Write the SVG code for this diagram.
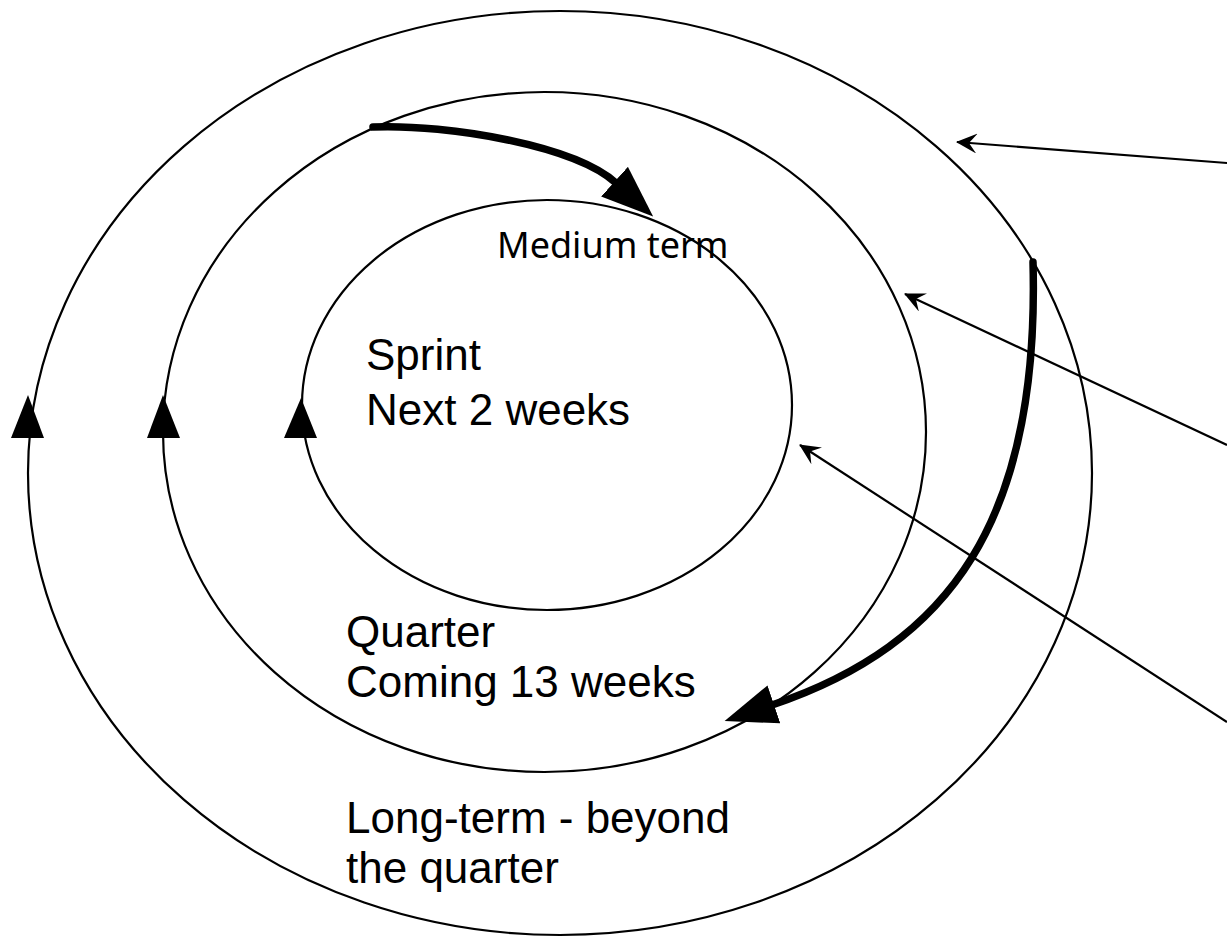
<svg xmlns="http://www.w3.org/2000/svg" width="1227" height="939" viewBox="0 0 1227 939">
  <style>
    .ring { fill: none; stroke: #000; stroke-width: 2.2; }
    .head { fill: #000; stroke: none; }
    .thick { fill: none; stroke: #000; stroke-width: 7.5; stroke-linecap: round; }
    .thin { fill: none; stroke: #000; stroke-width: 2.2; }
    .label { font-family: "Liberation Sans", Arial, Helvetica, sans-serif; font-size: 44px; fill: #000; }
    .small { font-family: "Noto Sans", "Open Sans", sans-serif; font-size: 36px; fill: #000; }
  </style>
  <defs>
    <marker id="bigHead" viewBox="0 0 52 40" refX="2" refY="20" markerWidth="52" markerHeight="40" markerUnits="userSpaceOnUse" orient="auto">
      <path d="M0,0 L52,20 L0,40 z" fill="#000"/>
    </marker>
    <marker id="barb" viewBox="0 0 21 20" refX="20" refY="10" markerWidth="21" markerHeight="20" markerUnits="userSpaceOnUse" orient="auto">
      <path d="M0,0 L21,10 L0,20 L8,10 z" fill="#000"/>
    </marker>
  </defs>

  <rect width="1227" height="939" fill="#fff"/>

  <!-- Outer ring: long-term horizon -->
  <g id="ring-long-term">
    <ellipse class="ring" cx="560" cy="473" rx="532" ry="462"/>
    <polygon class="head" points="28,395 11,438 44,438"/>
    <text class="label" x="346" y="833">Long-term - beyond</text>
    <text class="label" x="346" y="883">the quarter</text>
  </g>

  <!-- Middle ring: quarter -->
  <g id="ring-quarter">
    <ellipse class="ring" cx="544.5" cy="432" rx="381.5" ry="340"/>
    <polygon class="head" points="163,395 147,438 180,438"/>
    <text class="label" x="346" y="647">Quarter</text>
    <text class="label" x="346" y="697">Coming 13 weeks</text>
  </g>

  <!-- Inner ring: sprint -->
  <g id="ring-sprint">
    <ellipse class="ring" cx="547" cy="405" rx="245" ry="205"/>
    <polygon class="head" points="301,398 284,438 317,438"/>
    <text class="label" x="366" y="370">Sprint</text>
    <text class="label" x="366" y="425">Next 2 weeks</text>
    <text class="small" x="497" y="258">Medium term</text>
  </g>

  <!-- Connectors -->
  <g id="connectors">
    <!-- quarter feeds into sprint -->
    <path class="thick" d="M373,127 C450,124 575,146 616,183" marker-end="url(#bigHead)"/>
    <!-- long-term feeds into quarter -->
    <path class="thick" d="M1033,262 C1040,520 950,645 772,705" marker-end="url(#bigHead)"/>
    <!-- pointers from the right edge -->
    <line class="thin" x1="1227" y1="163" x2="957" y2="142" marker-end="url(#barb)"/>
    <line class="thin" x1="1227" y1="445" x2="905" y2="294" marker-end="url(#barb)"/>
    <line class="thin" x1="1227" y1="722" x2="800" y2="445" marker-end="url(#barb)"/>
  </g>
</svg>
